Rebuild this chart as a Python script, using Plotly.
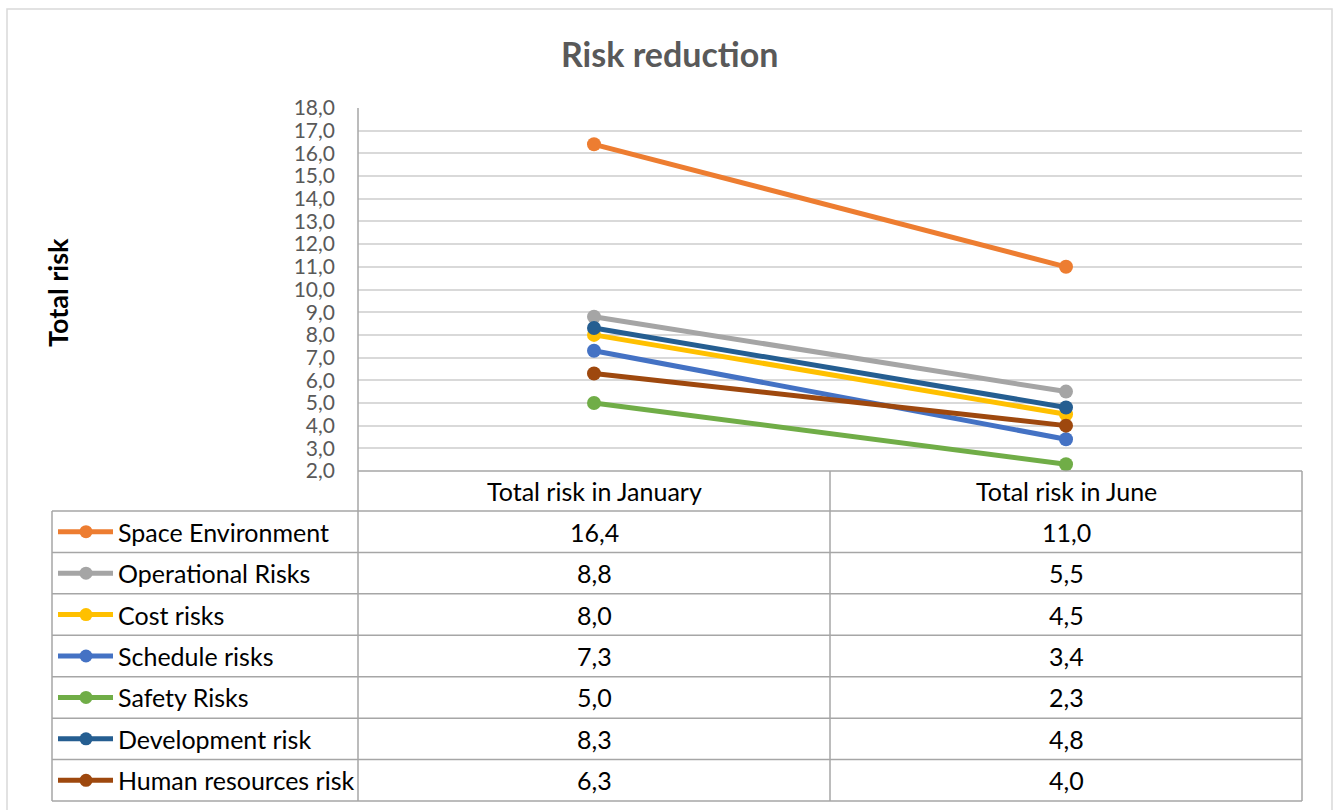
import plotly.graph_objects as go

W, H = 1338, 810

categories = ["Total risk in January", "Total risk in June"]
series_names = ["Space Environment", "Operational Risks", "Cost risks", "Schedule risks",
                "Safety Risks", "Development risk", "Human resources risk"]
jan_values = [16.4, 8.8, 8.0, 7.3, 5.0, 8.3, 6.3]
jun_values = [11.0, 5.5, 4.5, 3.4, 2.3, 4.8, 4.0]
colors = ["#ED7D31", "#A5A5A5", "#FFC000", "#4472C4", "#70AD47", "#255E91", "#9E480E"]
y_ticks = list(range(2, 19))

FONT = "Lato"
TEXT_GREY = "#595959"
GRID = "#D9D9D9"
BORDER = "#A6A6A6"
TABLE_FS = 25


def px(x):
    return x / W


def py(y):
    return 1 - y / H


# layout geometry (pixels)
PL, PR, PT, PB = 358, 1302, 108, 471
TL = 52
COL_MID = 830
HEAD_B = 511
TBOT = 801
n = len(series_names)
row_h = (TBOT - HEAD_B) / n

fig = go.Figure()

for name, a, b, c in zip(series_names, jan_values, jun_values, colors):
    fig.add_trace(go.Scatter(
        x=categories, y=[a, b], mode="lines+markers", name=name,
        line=dict(color=c, width=5), marker=dict(color=c, size=14),
        xaxis="x", yaxis="y", showlegend=False, cliponaxis=False))

# legend keys inside the data table (overlay axis in pixel units)
for i, (name, c) in enumerate(zip(series_names, colors)):
    yc = HEAD_B + row_h * (i + 0.5)
    fig.add_trace(go.Scatter(
        x=[58, 86, 113], y=[yc, yc, yc], mode="lines", line=dict(color=c, width=5),
        xaxis="x2", yaxis="y2", showlegend=False, hoverinfo="skip"))
    fig.add_trace(go.Scatter(
        x=[86], y=[yc], mode="markers", marker=dict(color=c, size=13),
        xaxis="x2", yaxis="y2", showlegend=False, hoverinfo="skip"))

shapes = []
# outer chart border
shapes.append(dict(type="rect", xref="paper", yref="paper", x0=px(7), x1=px(1332), y0=py(830), y1=py(9),
                   line=dict(color=GRID, width=1.5), layer="below"))


def hline(y, x0, x1, color=BORDER):
    shapes.append(dict(type="line", xref="paper", yref="paper", x0=px(x0), x1=px(x1), y0=py(y), y1=py(y),
                       line=dict(color=color, width=1.5)))


def vline(x, y0, y1, color=BORDER):
    shapes.append(dict(type="line", xref="paper", yref="paper", x0=px(x), x1=px(x), y0=py(y0), y1=py(y1),
                       line=dict(color=color, width=1.5)))


hline(PB, PL, PR)
for k in range(n + 1):
    hline(HEAD_B + row_h * k, TL, PR)
vline(PL, PT, TBOT)
vline(COL_MID, PB, TBOT)
vline(PR, PB, TBOT)
vline(TL, HEAD_B, TBOT)

annotations = []
annotations.append(dict(text="<b>Risk reduction</b>", x=px(669), y=py(53), xref="paper", yref="paper",
                        showarrow=False, font=dict(family=FONT, size=34, color=TEXT_GREY),
                        xanchor="center", yanchor="middle"))
annotations.append(dict(text="<b>Total risk</b>", x=px(57), y=py(293), xref="paper", yref="paper",
                        showarrow=False, textangle=-90, font=dict(family=FONT, size=27, color="#000000"),
                        xanchor="center", yanchor="middle"))
for cat in categories:
    annotations.append(dict(text=cat, x=cat, y=py((PB + HEAD_B) / 2), xref="x", yref="paper",
                            showarrow=False, font=dict(family=FONT, size=TABLE_FS, color="#000000"),
                            xanchor="center", yanchor="middle"))
for i, name in enumerate(series_names):
    yc = py(HEAD_B + row_h * (i + 0.5))
    annotations.append(dict(text=name, x=px(116), y=yc, xref="paper", yref="paper", showarrow=False,
                            font=dict(family=FONT, size=TABLE_FS, color="#000000"),
                            xanchor="left", yanchor="middle"))
    for cat, v in zip(categories, [jan_values[i], jun_values[i]]):
        annotations.append(dict(text=f"{v:.1f}".replace(".", ","), x=cat, y=yc, xref="x", yref="paper",
                                showarrow=False, font=dict(family=FONT, size=TABLE_FS, color="#000000"),
                                xanchor="center", yanchor="middle"))

fig.update_layout(
    width=W, height=H, margin=dict(l=0, r=0, t=0, b=0, pad=0, autoexpand=False),
    paper_bgcolor="white", plot_bgcolor="rgba(0,0,0,0)",
    separators=",.",
    xaxis=dict(domain=[px(PL), px(PR)], type="category", range=[-0.5, 1.5], showticklabels=False,
               showgrid=False, zeroline=False, showline=False, fixedrange=True, automargin=False),
    yaxis=dict(domain=[py(PB), py(PT)], range=[2, 18], tickvals=y_ticks, tickformat=".1f",
               showgrid=True, gridcolor=GRID, gridwidth=1.5, zeroline=False, showline=False,
               tickfont=dict(family=FONT, size=21, color=TEXT_GREY), ticks="", ticklabelstandoff=22,
               fixedrange=True, automargin=False),
    xaxis2=dict(domain=[0, 1], range=[0, W], visible=False, fixedrange=True, anchor="y2", automargin=False),
    yaxis2=dict(domain=[0, 1], range=[H, 0], visible=False, fixedrange=True, anchor="x2", automargin=False),
    shapes=shapes, annotations=annotations,
)

fig.write_html("out.html")
